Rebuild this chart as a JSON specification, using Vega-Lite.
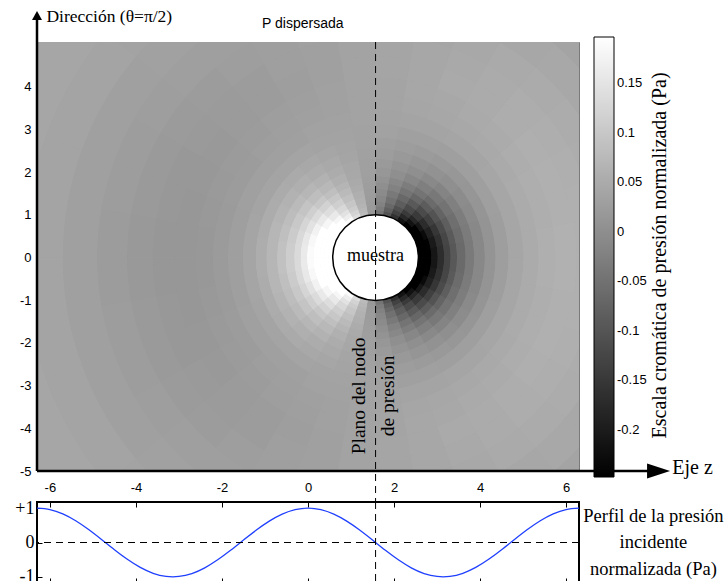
{
  "$schema": "https://vega.github.io/schema/vega-lite/v6.json",
  "background": "white",
  "padding": {"left": 13, "top": 7, "right": 0, "bottom": 0},
  "bounds": "flush",
  "spacing": 31,
  "config": {"view": {"stroke": null}, "font": "Liberation Sans", "axis": {"grid": false}},
  "datasets": {
    "sample": [{"z": 1.5708, "y": 0, "r": 1, "name": "muestra"}],
    "incident": [
      {"z":-6.3,"p":0.9999},{"z":-6.0,"p":0.9602},{"z":-5.7,"p":0.8347},{"z":-5.4,"p":0.6347},{"z":-5.1,"p":0.378},{"z":-4.8,"p":0.0875},{"z":-4.5,"p":-0.2108},{"z":-4.2,"p":-0.4903},{"z":-3.9,"p":-0.7259},{"z":-3.6,"p":-0.8968},{"z":-3.3,"p":-0.9875},{"z":-3.0,"p":-0.99},{"z":-2.7,"p":-0.9041},{"z":-2.4,"p":-0.7374},{"z":-2.1,"p":-0.5048},{"z":-1.8,"p":-0.2272},{"z":-1.5,"p":0.0707},{"z":-1.2,"p":0.3624},{"z":-0.9,"p":0.6216},{"z":-0.6,"p":0.8253},{"z":-0.3,"p":0.9553},{"z":0,"p":1},
      {"z":0.3,"p":0.9553},{"z":0.6,"p":0.8253},{"z":0.9,"p":0.6216},{"z":1.2,"p":0.3624},{"z":1.5,"p":0.0707},{"z":1.8,"p":-0.2272},{"z":2.1,"p":-0.5048},{"z":2.4,"p":-0.7374},{"z":2.7,"p":-0.9041},{"z":3.0,"p":-0.99},{"z":3.3,"p":-0.9875},{"z":3.6,"p":-0.8968},{"z":3.9,"p":-0.7259},{"z":4.2,"p":-0.4903},{"z":4.5,"p":-0.2108},{"z":4.8,"p":0.0875},{"z":5.1,"p":0.378},{"z":5.4,"p":0.6347},{"z":5.7,"p":0.8347},{"z":6.0,"p":0.9602},{"z":6.3,"p":0.9999}
    ],
    "field": [
      {"r0":1,"r1":1.1,"a0":0,"a1":10,"p":-0.364},{"r0":1,"r1":1.1,"a0":10,"a1":20,"p":-0.353},{"r0":1,"r1":1.1,"a0":20,"a1":30,"p":-0.332},{"r0":1,"r1":1.1,"a0":30,"a1":40,"p":-0.301},{"r0":1,"r1":1.1,"a0":40,"a1":50,"p":-0.262},{"r0":1,"r1":1.1,"a0":50,"a1":60,"p":-0.215},{"r0":1,"r1":1.1,"a0":60,"a1":70,"p":-0.162},{"r0":1,"r1":1.1,"a0":70,"a1":80,"p":-0.104},{"r0":1,"r1":1.1,"a0":80,"a1":90,"p":-0.044},{"r0":1,"r1":1.1,"a0":90,"a1":100,"p":0.018},{"r0":1,"r1":1.1,"a0":100,"a1":110,"p":0.078},{"r0":1,"r1":1.1,"a0":110,"a1":120,"p":0.136},{"r0":1,"r1":1.1,"a0":120,"a1":130,"p":0.189},{"r0":1,"r1":1.1,"a0":130,"a1":140,"p":0.236},{"r0":1,"r1":1.1,"a0":140,"a1":150,"p":0.275},{"r0":1,"r1":1.1,"a0":150,"a1":160,"p":0.306},{"r0":1,"r1":1.1,"a0":160,"a1":170,"p":0.327},{"r0":1,"r1":1.1,"a0":170,"a1":180,"p":0.338},
      {"r0":1,"r1":1.1,"a0":180,"a1":190,"p":0.338},{"r0":1,"r1":1.1,"a0":190,"a1":200,"p":0.327},{"r0":1,"r1":1.1,"a0":200,"a1":210,"p":0.306},{"r0":1,"r1":1.1,"a0":210,"a1":220,"p":0.275},{"r0":1,"r1":1.1,"a0":220,"a1":230,"p":0.236},{"r0":1,"r1":1.1,"a0":230,"a1":240,"p":0.189},{"r0":1,"r1":1.1,"a0":240,"a1":250,"p":0.136},{"r0":1,"r1":1.1,"a0":250,"a1":260,"p":0.078},{"r0":1,"r1":1.1,"a0":260,"a1":270,"p":0.018},{"r0":1,"r1":1.1,"a0":270,"a1":280,"p":-0.044},{"r0":1,"r1":1.1,"a0":280,"a1":290,"p":-0.104},{"r0":1,"r1":1.1,"a0":290,"a1":300,"p":-0.162},{"r0":1,"r1":1.1,"a0":300,"a1":310,"p":-0.215},{"r0":1,"r1":1.1,"a0":310,"a1":320,"p":-0.262},{"r0":1,"r1":1.1,"a0":320,"a1":330,"p":-0.301},{"r0":1,"r1":1.1,"a0":330,"a1":340,"p":-0.332},{"r0":1,"r1":1.1,"a0":340,"a1":350,"p":-0.353},{"r0":1,"r1":1.1,"a0":350,"a1":360,"p":-0.364},

      {"r0":1.1,"r1":1.2,"a0":0,"a1":10,"p":-0.304},{"r0":1.1,"r1":1.2,"a0":10,"a1":20,"p":-0.295},{"r0":1.1,"r1":1.2,"a0":20,"a1":30,"p":-0.277},{"r0":1.1,"r1":1.2,"a0":30,"a1":40,"p":-0.251},{"r0":1.1,"r1":1.2,"a0":40,"a1":50,"p":-0.217},{"r0":1.1,"r1":1.2,"a0":50,"a1":60,"p":-0.178},{"r0":1.1,"r1":1.2,"a0":60,"a1":70,"p":-0.132},{"r0":1.1,"r1":1.2,"a0":70,"a1":80,"p":-0.083},{"r0":1.1,"r1":1.2,"a0":80,"a1":90,"p":-0.032},{"r0":1.1,"r1":1.2,"a0":90,"a1":100,"p":0.02},{"r0":1.1,"r1":1.2,"a0":100,"a1":110,"p":0.072},{"r0":1.1,"r1":1.2,"a0":110,"a1":120,"p":0.121},{"r0":1.1,"r1":1.2,"a0":120,"a1":130,"p":0.166},{"r0":1.1,"r1":1.2,"a0":130,"a1":140,"p":0.206},{"r0":1.1,"r1":1.2,"a0":140,"a1":150,"p":0.239},{"r0":1.1,"r1":1.2,"a0":150,"a1":160,"p":0.266},{"r0":1.1,"r1":1.2,"a0":160,"a1":170,"p":0.283},{"r0":1.1,"r1":1.2,"a0":170,"a1":180,"p":0.292},
      {"r0":1.1,"r1":1.2,"a0":180,"a1":190,"p":0.292},{"r0":1.1,"r1":1.2,"a0":190,"a1":200,"p":0.283},{"r0":1.1,"r1":1.2,"a0":200,"a1":210,"p":0.266},{"r0":1.1,"r1":1.2,"a0":210,"a1":220,"p":0.239},{"r0":1.1,"r1":1.2,"a0":220,"a1":230,"p":0.206},{"r0":1.1,"r1":1.2,"a0":230,"a1":240,"p":0.166},{"r0":1.1,"r1":1.2,"a0":240,"a1":250,"p":0.121},{"r0":1.1,"r1":1.2,"a0":250,"a1":260,"p":0.072},{"r0":1.1,"r1":1.2,"a0":260,"a1":270,"p":0.02},{"r0":1.1,"r1":1.2,"a0":270,"a1":280,"p":-0.032},{"r0":1.1,"r1":1.2,"a0":280,"a1":290,"p":-0.083},{"r0":1.1,"r1":1.2,"a0":290,"a1":300,"p":-0.132},{"r0":1.1,"r1":1.2,"a0":300,"a1":310,"p":-0.178},{"r0":1.1,"r1":1.2,"a0":310,"a1":320,"p":-0.217},{"r0":1.1,"r1":1.2,"a0":320,"a1":330,"p":-0.251},{"r0":1.1,"r1":1.2,"a0":330,"a1":340,"p":-0.277},{"r0":1.1,"r1":1.2,"a0":340,"a1":350,"p":-0.295},{"r0":1.1,"r1":1.2,"a0":350,"a1":360,"p":-0.304},

      {"r0":1.2,"r1":1.3,"a0":0,"a1":10,"p":-0.254},{"r0":1.2,"r1":1.3,"a0":10,"a1":20,"p":-0.246},{"r0":1.2,"r1":1.3,"a0":20,"a1":30,"p":-0.231},{"r0":1.2,"r1":1.3,"a0":30,"a1":40,"p":-0.209},{"r0":1.2,"r1":1.3,"a0":40,"a1":50,"p":-0.18},{"r0":1.2,"r1":1.3,"a0":50,"a1":60,"p":-0.146},{"r0":1.2,"r1":1.3,"a0":60,"a1":70,"p":-0.108},{"r0":1.2,"r1":1.3,"a0":70,"a1":80,"p":-0.066},{"r0":1.2,"r1":1.3,"a0":80,"a1":90,"p":-0.022},{"r0":1.2,"r1":1.3,"a0":90,"a1":100,"p":0.023},{"r0":1.2,"r1":1.3,"a0":100,"a1":110,"p":0.066},{"r0":1.2,"r1":1.3,"a0":110,"a1":120,"p":0.108},{"r0":1.2,"r1":1.3,"a0":120,"a1":130,"p":0.147},{"r0":1.2,"r1":1.3,"a0":130,"a1":140,"p":0.181},{"r0":1.2,"r1":1.3,"a0":140,"a1":150,"p":0.209},{"r0":1.2,"r1":1.3,"a0":150,"a1":160,"p":0.232},{"r0":1.2,"r1":1.3,"a0":160,"a1":170,"p":0.247},{"r0":1.2,"r1":1.3,"a0":170,"a1":180,"p":0.255},
      {"r0":1.2,"r1":1.3,"a0":180,"a1":190,"p":0.255},{"r0":1.2,"r1":1.3,"a0":190,"a1":200,"p":0.247},{"r0":1.2,"r1":1.3,"a0":200,"a1":210,"p":0.232},{"r0":1.2,"r1":1.3,"a0":210,"a1":220,"p":0.209},{"r0":1.2,"r1":1.3,"a0":220,"a1":230,"p":0.181},{"r0":1.2,"r1":1.3,"a0":230,"a1":240,"p":0.147},{"r0":1.2,"r1":1.3,"a0":240,"a1":250,"p":0.108},{"r0":1.2,"r1":1.3,"a0":250,"a1":260,"p":0.066},{"r0":1.2,"r1":1.3,"a0":260,"a1":270,"p":0.023},{"r0":1.2,"r1":1.3,"a0":270,"a1":280,"p":-0.022},{"r0":1.2,"r1":1.3,"a0":280,"a1":290,"p":-0.066},{"r0":1.2,"r1":1.3,"a0":290,"a1":300,"p":-0.108},{"r0":1.2,"r1":1.3,"a0":300,"a1":310,"p":-0.146},{"r0":1.2,"r1":1.3,"a0":310,"a1":320,"p":-0.18},{"r0":1.2,"r1":1.3,"a0":320,"a1":330,"p":-0.209},{"r0":1.2,"r1":1.3,"a0":330,"a1":340,"p":-0.231},{"r0":1.2,"r1":1.3,"a0":340,"a1":350,"p":-0.246},{"r0":1.2,"r1":1.3,"a0":350,"a1":360,"p":-0.254},

      {"r0":1.3,"r1":1.45,"a0":0,"a1":10,"p":-0.209},{"r0":1.3,"r1":1.45,"a0":10,"a1":20,"p":-0.203},{"r0":1.3,"r1":1.45,"a0":20,"a1":30,"p":-0.19},{"r0":1.3,"r1":1.45,"a0":30,"a1":40,"p":-0.171},{"r0":1.3,"r1":1.45,"a0":40,"a1":50,"p":-0.147},{"r0":1.3,"r1":1.45,"a0":50,"a1":60,"p":-0.118},{"r0":1.3,"r1":1.45,"a0":60,"a1":70,"p":-0.086},{"r0":1.3,"r1":1.45,"a0":70,"a1":80,"p":-0.05},{"r0":1.3,"r1":1.45,"a0":80,"a1":90,"p":-0.013},{"r0":1.3,"r1":1.45,"a0":90,"a1":100,"p":0.024},{"r0":1.3,"r1":1.45,"a0":100,"a1":110,"p":0.061},{"r0":1.3,"r1":1.45,"a0":110,"a1":120,"p":0.097},{"r0":1.3,"r1":1.45,"a0":120,"a1":130,"p":0.129},{"r0":1.3,"r1":1.45,"a0":130,"a1":140,"p":0.158},{"r0":1.3,"r1":1.45,"a0":140,"a1":150,"p":0.182},{"r0":1.3,"r1":1.45,"a0":150,"a1":160,"p":0.201},{"r0":1.3,"r1":1.45,"a0":160,"a1":170,"p":0.214},{"r0":1.3,"r1":1.45,"a0":170,"a1":180,"p":0.22},
      {"r0":1.3,"r1":1.45,"a0":180,"a1":190,"p":0.22},{"r0":1.3,"r1":1.45,"a0":190,"a1":200,"p":0.214},{"r0":1.3,"r1":1.45,"a0":200,"a1":210,"p":0.201},{"r0":1.3,"r1":1.45,"a0":210,"a1":220,"p":0.182},{"r0":1.3,"r1":1.45,"a0":220,"a1":230,"p":0.158},{"r0":1.3,"r1":1.45,"a0":230,"a1":240,"p":0.129},{"r0":1.3,"r1":1.45,"a0":240,"a1":250,"p":0.097},{"r0":1.3,"r1":1.45,"a0":250,"a1":260,"p":0.061},{"r0":1.3,"r1":1.45,"a0":260,"a1":270,"p":0.024},{"r0":1.3,"r1":1.45,"a0":270,"a1":280,"p":-0.013},{"r0":1.3,"r1":1.45,"a0":280,"a1":290,"p":-0.05},{"r0":1.3,"r1":1.45,"a0":290,"a1":300,"p":-0.086},{"r0":1.3,"r1":1.45,"a0":300,"a1":310,"p":-0.118},{"r0":1.3,"r1":1.45,"a0":310,"a1":320,"p":-0.147},{"r0":1.3,"r1":1.45,"a0":320,"a1":330,"p":-0.171},{"r0":1.3,"r1":1.45,"a0":330,"a1":340,"p":-0.19},{"r0":1.3,"r1":1.45,"a0":340,"a1":350,"p":-0.203},{"r0":1.3,"r1":1.45,"a0":350,"a1":360,"p":-0.209},

      {"r0":1.45,"r1":1.6,"a0":0,"a1":10,"p":-0.169},{"r0":1.45,"r1":1.6,"a0":10,"a1":20,"p":-0.164},{"r0":1.45,"r1":1.6,"a0":20,"a1":30,"p":-0.153},{"r0":1.45,"r1":1.6,"a0":30,"a1":40,"p":-0.137},{"r0":1.45,"r1":1.6,"a0":40,"a1":50,"p":-0.117},{"r0":1.45,"r1":1.6,"a0":50,"a1":60,"p":-0.093},{"r0":1.45,"r1":1.6,"a0":60,"a1":70,"p":-0.066},{"r0":1.45,"r1":1.6,"a0":70,"a1":80,"p":-0.036},{"r0":1.45,"r1":1.6,"a0":80,"a1":90,"p":-0.005},{"r0":1.45,"r1":1.6,"a0":90,"a1":100,"p":0.026},{"r0":1.45,"r1":1.6,"a0":100,"a1":110,"p":0.057},{"r0":1.45,"r1":1.6,"a0":110,"a1":120,"p":0.087},{"r0":1.45,"r1":1.6,"a0":120,"a1":130,"p":0.114},{"r0":1.45,"r1":1.6,"a0":130,"a1":140,"p":0.138},{"r0":1.45,"r1":1.6,"a0":140,"a1":150,"p":0.158},{"r0":1.45,"r1":1.6,"a0":150,"a1":160,"p":0.174},{"r0":1.45,"r1":1.6,"a0":160,"a1":170,"p":0.185},{"r0":1.45,"r1":1.6,"a0":170,"a1":180,"p":0.19},
      {"r0":1.45,"r1":1.6,"a0":180,"a1":190,"p":0.19},{"r0":1.45,"r1":1.6,"a0":190,"a1":200,"p":0.185},{"r0":1.45,"r1":1.6,"a0":200,"a1":210,"p":0.174},{"r0":1.45,"r1":1.6,"a0":210,"a1":220,"p":0.158},{"r0":1.45,"r1":1.6,"a0":220,"a1":230,"p":0.138},{"r0":1.45,"r1":1.6,"a0":230,"a1":240,"p":0.114},{"r0":1.45,"r1":1.6,"a0":240,"a1":250,"p":0.087},{"r0":1.45,"r1":1.6,"a0":250,"a1":260,"p":0.057},{"r0":1.45,"r1":1.6,"a0":260,"a1":270,"p":0.026},{"r0":1.45,"r1":1.6,"a0":270,"a1":280,"p":-0.005},{"r0":1.45,"r1":1.6,"a0":280,"a1":290,"p":-0.036},{"r0":1.45,"r1":1.6,"a0":290,"a1":300,"p":-0.066},{"r0":1.45,"r1":1.6,"a0":300,"a1":310,"p":-0.093},{"r0":1.45,"r1":1.6,"a0":310,"a1":320,"p":-0.117},{"r0":1.45,"r1":1.6,"a0":320,"a1":330,"p":-0.137},{"r0":1.45,"r1":1.6,"a0":330,"a1":340,"p":-0.153},{"r0":1.45,"r1":1.6,"a0":340,"a1":350,"p":-0.164},{"r0":1.45,"r1":1.6,"a0":350,"a1":360,"p":-0.169},

      {"r0":1.6,"r1":1.75,"a0":0,"a1":10,"p":-0.13},{"r0":1.6,"r1":1.75,"a0":10,"a1":20,"p":-0.125},{"r0":1.6,"r1":1.75,"a0":20,"a1":30,"p":-0.117},{"r0":1.6,"r1":1.75,"a0":30,"a1":40,"p":-0.104},{"r0":1.6,"r1":1.75,"a0":40,"a1":50,"p":-0.087},{"r0":1.6,"r1":1.75,"a0":50,"a1":60,"p":-0.068},{"r0":1.6,"r1":1.75,"a0":60,"a1":70,"p":-0.046},{"r0":1.6,"r1":1.75,"a0":70,"a1":80,"p":-0.022},{"r0":1.6,"r1":1.75,"a0":80,"a1":90,"p":0.002},{"r0":1.6,"r1":1.75,"a0":90,"a1":100,"p":0.028},{"r0":1.6,"r1":1.75,"a0":100,"a1":110,"p":0.053},{"r0":1.6,"r1":1.75,"a0":110,"a1":120,"p":0.077},{"r0":1.6,"r1":1.75,"a0":120,"a1":130,"p":0.099},{"r0":1.6,"r1":1.75,"a0":130,"a1":140,"p":0.118},{"r0":1.6,"r1":1.75,"a0":140,"a1":150,"p":0.134},{"r0":1.6,"r1":1.75,"a0":150,"a1":160,"p":0.147},{"r0":1.6,"r1":1.75,"a0":160,"a1":170,"p":0.156},{"r0":1.6,"r1":1.75,"a0":170,"a1":180,"p":0.16},
      {"r0":1.6,"r1":1.75,"a0":180,"a1":190,"p":0.16},{"r0":1.6,"r1":1.75,"a0":190,"a1":200,"p":0.156},{"r0":1.6,"r1":1.75,"a0":200,"a1":210,"p":0.147},{"r0":1.6,"r1":1.75,"a0":210,"a1":220,"p":0.134},{"r0":1.6,"r1":1.75,"a0":220,"a1":230,"p":0.118},{"r0":1.6,"r1":1.75,"a0":230,"a1":240,"p":0.099},{"r0":1.6,"r1":1.75,"a0":240,"a1":250,"p":0.077},{"r0":1.6,"r1":1.75,"a0":250,"a1":260,"p":0.053},{"r0":1.6,"r1":1.75,"a0":260,"a1":270,"p":0.028},{"r0":1.6,"r1":1.75,"a0":270,"a1":280,"p":0.002},{"r0":1.6,"r1":1.75,"a0":280,"a1":290,"p":-0.022},{"r0":1.6,"r1":1.75,"a0":290,"a1":300,"p":-0.046},{"r0":1.6,"r1":1.75,"a0":300,"a1":310,"p":-0.068},{"r0":1.6,"r1":1.75,"a0":310,"a1":320,"p":-0.087},{"r0":1.6,"r1":1.75,"a0":320,"a1":330,"p":-0.104},{"r0":1.6,"r1":1.75,"a0":330,"a1":340,"p":-0.117},{"r0":1.6,"r1":1.75,"a0":340,"a1":350,"p":-0.125},{"r0":1.6,"r1":1.75,"a0":350,"a1":360,"p":-0.13},

      {"r0":1.75,"r1":1.9,"a0":0,"a1":10,"p":-0.095},{"r0":1.75,"r1":1.9,"a0":10,"a1":20,"p":-0.091},{"r0":1.75,"r1":1.9,"a0":20,"a1":30,"p":-0.084},{"r0":1.75,"r1":1.9,"a0":30,"a1":40,"p":-0.074},{"r0":1.75,"r1":1.9,"a0":40,"a1":50,"p":-0.062},{"r0":1.75,"r1":1.9,"a0":50,"a1":60,"p":-0.046},{"r0":1.75,"r1":1.9,"a0":60,"a1":70,"p":-0.029},{"r0":1.75,"r1":1.9,"a0":70,"a1":80,"p":-0.01},{"r0":1.75,"r1":1.9,"a0":80,"a1":90,"p":0.009},{"r0":1.75,"r1":1.9,"a0":90,"a1":100,"p":0.029},{"r0":1.75,"r1":1.9,"a0":100,"a1":110,"p":0.049},{"r0":1.75,"r1":1.9,"a0":110,"a1":120,"p":0.068},{"r0":1.75,"r1":1.9,"a0":120,"a1":130,"p":0.085},{"r0":1.75,"r1":1.9,"a0":130,"a1":140,"p":0.1},{"r0":1.75,"r1":1.9,"a0":140,"a1":150,"p":0.113},{"r0":1.75,"r1":1.9,"a0":150,"a1":160,"p":0.123},{"r0":1.75,"r1":1.9,"a0":160,"a1":170,"p":0.13},{"r0":1.75,"r1":1.9,"a0":170,"a1":180,"p":0.133},
      {"r0":1.75,"r1":1.9,"a0":180,"a1":190,"p":0.133},{"r0":1.75,"r1":1.9,"a0":190,"a1":200,"p":0.13},{"r0":1.75,"r1":1.9,"a0":200,"a1":210,"p":0.123},{"r0":1.75,"r1":1.9,"a0":210,"a1":220,"p":0.113},{"r0":1.75,"r1":1.9,"a0":220,"a1":230,"p":0.1},{"r0":1.75,"r1":1.9,"a0":230,"a1":240,"p":0.085},{"r0":1.75,"r1":1.9,"a0":240,"a1":250,"p":0.068},{"r0":1.75,"r1":1.9,"a0":250,"a1":260,"p":0.049},{"r0":1.75,"r1":1.9,"a0":260,"a1":270,"p":0.029},{"r0":1.75,"r1":1.9,"a0":270,"a1":280,"p":0.009},{"r0":1.75,"r1":1.9,"a0":280,"a1":290,"p":-0.01},{"r0":1.75,"r1":1.9,"a0":290,"a1":300,"p":-0.029},{"r0":1.75,"r1":1.9,"a0":300,"a1":310,"p":-0.046},{"r0":1.75,"r1":1.9,"a0":310,"a1":320,"p":-0.062},{"r0":1.75,"r1":1.9,"a0":320,"a1":330,"p":-0.074},{"r0":1.75,"r1":1.9,"a0":330,"a1":340,"p":-0.084},{"r0":1.75,"r1":1.9,"a0":340,"a1":350,"p":-0.091},{"r0":1.75,"r1":1.9,"a0":350,"a1":360,"p":-0.095},

      {"r0":1.9,"r1":2.1,"a0":0,"a1":10,"p":-0.063},{"r0":1.9,"r1":2.1,"a0":10,"a1":20,"p":-0.06},{"r0":1.9,"r1":2.1,"a0":20,"a1":30,"p":-0.055},{"r0":1.9,"r1":2.1,"a0":30,"a1":40,"p":-0.047},{"r0":1.9,"r1":2.1,"a0":40,"a1":50,"p":-0.038},{"r0":1.9,"r1":2.1,"a0":50,"a1":60,"p":-0.026},{"r0":1.9,"r1":2.1,"a0":60,"a1":70,"p":-0.013},{"r0":1.9,"r1":2.1,"a0":70,"a1":80,"p":0.001},{"r0":1.9,"r1":2.1,"a0":80,"a1":90,"p":0.016},{"r0":1.9,"r1":2.1,"a0":90,"a1":100,"p":0.031},{"r0":1.9,"r1":2.1,"a0":100,"a1":110,"p":0.046},{"r0":1.9,"r1":2.1,"a0":110,"a1":120,"p":0.06},{"r0":1.9,"r1":2.1,"a0":120,"a1":130,"p":0.073},{"r0":1.9,"r1":2.1,"a0":130,"a1":140,"p":0.084},{"r0":1.9,"r1":2.1,"a0":140,"a1":150,"p":0.094},{"r0":1.9,"r1":2.1,"a0":150,"a1":160,"p":0.101},{"r0":1.9,"r1":2.1,"a0":160,"a1":170,"p":0.107},{"r0":1.9,"r1":2.1,"a0":170,"a1":180,"p":0.109},
      {"r0":1.9,"r1":2.1,"a0":180,"a1":190,"p":0.109},{"r0":1.9,"r1":2.1,"a0":190,"a1":200,"p":0.107},{"r0":1.9,"r1":2.1,"a0":200,"a1":210,"p":0.101},{"r0":1.9,"r1":2.1,"a0":210,"a1":220,"p":0.094},{"r0":1.9,"r1":2.1,"a0":220,"a1":230,"p":0.084},{"r0":1.9,"r1":2.1,"a0":230,"a1":240,"p":0.073},{"r0":1.9,"r1":2.1,"a0":240,"a1":250,"p":0.06},{"r0":1.9,"r1":2.1,"a0":250,"a1":260,"p":0.046},{"r0":1.9,"r1":2.1,"a0":260,"a1":270,"p":0.031},{"r0":1.9,"r1":2.1,"a0":270,"a1":280,"p":0.016},{"r0":1.9,"r1":2.1,"a0":280,"a1":290,"p":0.001},{"r0":1.9,"r1":2.1,"a0":290,"a1":300,"p":-0.013},{"r0":1.9,"r1":2.1,"a0":300,"a1":310,"p":-0.026},{"r0":1.9,"r1":2.1,"a0":310,"a1":320,"p":-0.038},{"r0":1.9,"r1":2.1,"a0":320,"a1":330,"p":-0.047},{"r0":1.9,"r1":2.1,"a0":330,"a1":340,"p":-0.055},{"r0":1.9,"r1":2.1,"a0":340,"a1":350,"p":-0.06},{"r0":1.9,"r1":2.1,"a0":350,"a1":360,"p":-0.063},

      {"r0":2.1,"r1":2.3,"a0":0,"a1":10,"p":-0.035},{"r0":2.1,"r1":2.3,"a0":10,"a1":20,"p":-0.033},{"r0":2.1,"r1":2.3,"a0":20,"a1":30,"p":-0.029},{"r0":2.1,"r1":2.3,"a0":30,"a1":40,"p":-0.024},{"r0":2.1,"r1":2.3,"a0":40,"a1":50,"p":-0.017},{"r0":2.1,"r1":2.3,"a0":50,"a1":60,"p":-0.009},{"r0":2.1,"r1":2.3,"a0":60,"a1":70,"p":0.001},{"r0":2.1,"r1":2.3,"a0":70,"a1":80,"p":0.011},{"r0":2.1,"r1":2.3,"a0":80,"a1":90,"p":0.021},{"r0":2.1,"r1":2.3,"a0":90,"a1":100,"p":0.032},{"r0":2.1,"r1":2.3,"a0":100,"a1":110,"p":0.043},{"r0":2.1,"r1":2.3,"a0":110,"a1":120,"p":0.053},{"r0":2.1,"r1":2.3,"a0":120,"a1":130,"p":0.062},{"r0":2.1,"r1":2.3,"a0":130,"a1":140,"p":0.07},{"r0":2.1,"r1":2.3,"a0":140,"a1":150,"p":0.077},{"r0":2.1,"r1":2.3,"a0":150,"a1":160,"p":0.082},{"r0":2.1,"r1":2.3,"a0":160,"a1":170,"p":0.086},{"r0":2.1,"r1":2.3,"a0":170,"a1":180,"p":0.088},
      {"r0":2.1,"r1":2.3,"a0":180,"a1":190,"p":0.088},{"r0":2.1,"r1":2.3,"a0":190,"a1":200,"p":0.086},{"r0":2.1,"r1":2.3,"a0":200,"a1":210,"p":0.082},{"r0":2.1,"r1":2.3,"a0":210,"a1":220,"p":0.077},{"r0":2.1,"r1":2.3,"a0":220,"a1":230,"p":0.07},{"r0":2.1,"r1":2.3,"a0":230,"a1":240,"p":0.062},{"r0":2.1,"r1":2.3,"a0":240,"a1":250,"p":0.053},{"r0":2.1,"r1":2.3,"a0":250,"a1":260,"p":0.043},{"r0":2.1,"r1":2.3,"a0":260,"a1":270,"p":0.032},{"r0":2.1,"r1":2.3,"a0":270,"a1":280,"p":0.021},{"r0":2.1,"r1":2.3,"a0":280,"a1":290,"p":0.011},{"r0":2.1,"r1":2.3,"a0":290,"a1":300,"p":0.001},{"r0":2.1,"r1":2.3,"a0":300,"a1":310,"p":-0.009},{"r0":2.1,"r1":2.3,"a0":310,"a1":320,"p":-0.017},{"r0":2.1,"r1":2.3,"a0":320,"a1":330,"p":-0.024},{"r0":2.1,"r1":2.3,"a0":330,"a1":340,"p":-0.029},{"r0":2.1,"r1":2.3,"a0":340,"a1":350,"p":-0.033},{"r0":2.1,"r1":2.3,"a0":350,"a1":360,"p":-0.035},

      {"r0":2.3,"r1":2.55,"a0":0,"a1":10,"p":-0.011},{"r0":2.3,"r1":2.55,"a0":10,"a1":20,"p":-0.01},{"r0":2.3,"r1":2.55,"a0":20,"a1":30,"p":-0.007},{"r0":2.3,"r1":2.55,"a0":30,"a1":40,"p":-0.004},{"r0":2.3,"r1":2.55,"a0":40,"a1":50,"p":0.001},{"r0":2.3,"r1":2.55,"a0":50,"a1":60,"p":0.006},{"r0":2.3,"r1":2.55,"a0":60,"a1":70,"p":0.012},{"r0":2.3,"r1":2.55,"a0":70,"a1":80,"p":0.019},{"r0":2.3,"r1":2.55,"a0":80,"a1":90,"p":0.026},{"r0":2.3,"r1":2.55,"a0":90,"a1":100,"p":0.033},{"r0":2.3,"r1":2.55,"a0":100,"a1":110,"p":0.04},{"r0":2.3,"r1":2.55,"a0":110,"a1":120,"p":0.047},{"r0":2.3,"r1":2.55,"a0":120,"a1":130,"p":0.053},{"r0":2.3,"r1":2.55,"a0":130,"a1":140,"p":0.058},{"r0":2.3,"r1":2.55,"a0":140,"a1":150,"p":0.063},{"r0":2.3,"r1":2.55,"a0":150,"a1":160,"p":0.066},{"r0":2.3,"r1":2.55,"a0":160,"a1":170,"p":0.069},{"r0":2.3,"r1":2.55,"a0":170,"a1":180,"p":0.07},
      {"r0":2.3,"r1":2.55,"a0":180,"a1":190,"p":0.07},{"r0":2.3,"r1":2.55,"a0":190,"a1":200,"p":0.069},{"r0":2.3,"r1":2.55,"a0":200,"a1":210,"p":0.066},{"r0":2.3,"r1":2.55,"a0":210,"a1":220,"p":0.063},{"r0":2.3,"r1":2.55,"a0":220,"a1":230,"p":0.058},{"r0":2.3,"r1":2.55,"a0":230,"a1":240,"p":0.053},{"r0":2.3,"r1":2.55,"a0":240,"a1":250,"p":0.047},{"r0":2.3,"r1":2.55,"a0":250,"a1":260,"p":0.04},{"r0":2.3,"r1":2.55,"a0":260,"a1":270,"p":0.033},{"r0":2.3,"r1":2.55,"a0":270,"a1":280,"p":0.026},{"r0":2.3,"r1":2.55,"a0":280,"a1":290,"p":0.019},{"r0":2.3,"r1":2.55,"a0":290,"a1":300,"p":0.012},{"r0":2.3,"r1":2.55,"a0":300,"a1":310,"p":0.006},{"r0":2.3,"r1":2.55,"a0":310,"a1":320,"p":0.001},{"r0":2.3,"r1":2.55,"a0":320,"a1":330,"p":-0.004},{"r0":2.3,"r1":2.55,"a0":330,"a1":340,"p":-0.007},{"r0":2.3,"r1":2.55,"a0":340,"a1":350,"p":-0.01},{"r0":2.3,"r1":2.55,"a0":350,"a1":360,"p":-0.011},

      {"r0":2.55,"r1":2.8,"a0":0,"a1":10,"p":0.01},{"r0":2.55,"r1":2.8,"a0":10,"a1":20,"p":0.011},{"r0":2.55,"r1":2.8,"a0":20,"a1":30,"p":0.012},{"r0":2.55,"r1":2.8,"a0":30,"a1":40,"p":0.014},{"r0":2.55,"r1":2.8,"a0":40,"a1":50,"p":0.016},{"r0":2.55,"r1":2.8,"a0":50,"a1":60,"p":0.019},{"r0":2.55,"r1":2.8,"a0":60,"a1":70,"p":0.023},{"r0":2.55,"r1":2.8,"a0":70,"a1":80,"p":0.026},{"r0":2.55,"r1":2.8,"a0":80,"a1":90,"p":0.03},{"r0":2.55,"r1":2.8,"a0":90,"a1":100,"p":0.034},{"r0":2.55,"r1":2.8,"a0":100,"a1":110,"p":0.038},{"r0":2.55,"r1":2.8,"a0":110,"a1":120,"p":0.041},{"r0":2.55,"r1":2.8,"a0":120,"a1":130,"p":0.045},{"r0":2.55,"r1":2.8,"a0":130,"a1":140,"p":0.048},{"r0":2.55,"r1":2.8,"a0":140,"a1":150,"p":0.05},{"r0":2.55,"r1":2.8,"a0":150,"a1":160,"p":0.052},{"r0":2.55,"r1":2.8,"a0":160,"a1":170,"p":0.053},{"r0":2.55,"r1":2.8,"a0":170,"a1":180,"p":0.054},
      {"r0":2.55,"r1":2.8,"a0":180,"a1":190,"p":0.054},{"r0":2.55,"r1":2.8,"a0":190,"a1":200,"p":0.053},{"r0":2.55,"r1":2.8,"a0":200,"a1":210,"p":0.052},{"r0":2.55,"r1":2.8,"a0":210,"a1":220,"p":0.05},{"r0":2.55,"r1":2.8,"a0":220,"a1":230,"p":0.048},{"r0":2.55,"r1":2.8,"a0":230,"a1":240,"p":0.045},{"r0":2.55,"r1":2.8,"a0":240,"a1":250,"p":0.041},{"r0":2.55,"r1":2.8,"a0":250,"a1":260,"p":0.038},{"r0":2.55,"r1":2.8,"a0":260,"a1":270,"p":0.034},{"r0":2.55,"r1":2.8,"a0":270,"a1":280,"p":0.03},{"r0":2.55,"r1":2.8,"a0":280,"a1":290,"p":0.026},{"r0":2.55,"r1":2.8,"a0":290,"a1":300,"p":0.023},{"r0":2.55,"r1":2.8,"a0":300,"a1":310,"p":0.019},{"r0":2.55,"r1":2.8,"a0":310,"a1":320,"p":0.016},{"r0":2.55,"r1":2.8,"a0":320,"a1":330,"p":0.014},{"r0":2.55,"r1":2.8,"a0":330,"a1":340,"p":0.012},{"r0":2.55,"r1":2.8,"a0":340,"a1":350,"p":0.011},{"r0":2.55,"r1":2.8,"a0":350,"a1":360,"p":0.01},

      {"r0":2.8,"r1":3.1,"a0":0,"a1":20,"p":0.028},{"r0":2.8,"r1":3.1,"a0":20,"a1":40,"p":0.029},{"r0":2.8,"r1":3.1,"a0":40,"a1":60,"p":0.03},{"r0":2.8,"r1":3.1,"a0":60,"a1":80,"p":0.032},{"r0":2.8,"r1":3.1,"a0":80,"a1":100,"p":0.034},{"r0":2.8,"r1":3.1,"a0":100,"a1":120,"p":0.036},{"r0":2.8,"r1":3.1,"a0":120,"a1":140,"p":0.038},{"r0":2.8,"r1":3.1,"a0":140,"a1":160,"p":0.039},{"r0":2.8,"r1":3.1,"a0":160,"a1":180,"p":0.04},
      {"r0":2.8,"r1":3.1,"a0":180,"a1":200,"p":0.04},{"r0":2.8,"r1":3.1,"a0":200,"a1":220,"p":0.039},{"r0":2.8,"r1":3.1,"a0":220,"a1":240,"p":0.038},{"r0":2.8,"r1":3.1,"a0":240,"a1":260,"p":0.036},{"r0":2.8,"r1":3.1,"a0":260,"a1":280,"p":0.034},{"r0":2.8,"r1":3.1,"a0":280,"a1":300,"p":0.032},{"r0":2.8,"r1":3.1,"a0":300,"a1":320,"p":0.03},{"r0":2.8,"r1":3.1,"a0":320,"a1":340,"p":0.029},{"r0":2.8,"r1":3.1,"a0":340,"a1":360,"p":0.028},

      {"r0":3.1,"r1":3.45,"a0":0,"a1":20,"p":0.042},{"r0":3.1,"r1":3.45,"a0":20,"a1":40,"p":0.041},{"r0":3.1,"r1":3.45,"a0":40,"a1":60,"p":0.04},{"r0":3.1,"r1":3.45,"a0":60,"a1":80,"p":0.038},{"r0":3.1,"r1":3.45,"a0":80,"a1":100,"p":0.036},{"r0":3.1,"r1":3.45,"a0":100,"a1":120,"p":0.034},{"r0":3.1,"r1":3.45,"a0":120,"a1":140,"p":0.032},{"r0":3.1,"r1":3.45,"a0":140,"a1":160,"p":0.031},{"r0":3.1,"r1":3.45,"a0":160,"a1":180,"p":0.03},
      {"r0":3.1,"r1":3.45,"a0":180,"a1":200,"p":0.03},{"r0":3.1,"r1":3.45,"a0":200,"a1":220,"p":0.031},{"r0":3.1,"r1":3.45,"a0":220,"a1":240,"p":0.032},{"r0":3.1,"r1":3.45,"a0":240,"a1":260,"p":0.034},{"r0":3.1,"r1":3.45,"a0":260,"a1":280,"p":0.036},{"r0":3.1,"r1":3.45,"a0":280,"a1":300,"p":0.038},{"r0":3.1,"r1":3.45,"a0":300,"a1":320,"p":0.04},{"r0":3.1,"r1":3.45,"a0":320,"a1":340,"p":0.041},{"r0":3.1,"r1":3.45,"a0":340,"a1":360,"p":0.042},

      {"r0":3.45,"r1":3.8,"a0":0,"a1":10,"p":0.051},{"r0":3.45,"r1":3.8,"a0":10,"a1":20,"p":0.05},{"r0":3.45,"r1":3.8,"a0":20,"a1":30,"p":0.05},{"r0":3.45,"r1":3.8,"a0":30,"a1":40,"p":0.048},{"r0":3.45,"r1":3.8,"a0":40,"a1":50,"p":0.047},{"r0":3.45,"r1":3.8,"a0":50,"a1":60,"p":0.045},{"r0":3.45,"r1":3.8,"a0":60,"a1":70,"p":0.043},{"r0":3.45,"r1":3.8,"a0":70,"a1":80,"p":0.041},{"r0":3.45,"r1":3.8,"a0":80,"a1":90,"p":0.038},{"r0":3.45,"r1":3.8,"a0":90,"a1":100,"p":0.036},{"r0":3.45,"r1":3.8,"a0":100,"a1":110,"p":0.033},{"r0":3.45,"r1":3.8,"a0":110,"a1":120,"p":0.031},{"r0":3.45,"r1":3.8,"a0":120,"a1":130,"p":0.029},{"r0":3.45,"r1":3.8,"a0":130,"a1":140,"p":0.027},{"r0":3.45,"r1":3.8,"a0":140,"a1":150,"p":0.025},{"r0":3.45,"r1":3.8,"a0":150,"a1":160,"p":0.024},{"r0":3.45,"r1":3.8,"a0":160,"a1":170,"p":0.023},{"r0":3.45,"r1":3.8,"a0":170,"a1":180,"p":0.023},
      {"r0":3.45,"r1":3.8,"a0":180,"a1":190,"p":0.023},{"r0":3.45,"r1":3.8,"a0":190,"a1":200,"p":0.023},{"r0":3.45,"r1":3.8,"a0":200,"a1":210,"p":0.024},{"r0":3.45,"r1":3.8,"a0":210,"a1":220,"p":0.025},{"r0":3.45,"r1":3.8,"a0":220,"a1":230,"p":0.027},{"r0":3.45,"r1":3.8,"a0":230,"a1":240,"p":0.029},{"r0":3.45,"r1":3.8,"a0":240,"a1":250,"p":0.031},{"r0":3.45,"r1":3.8,"a0":250,"a1":260,"p":0.033},{"r0":3.45,"r1":3.8,"a0":260,"a1":270,"p":0.036},{"r0":3.45,"r1":3.8,"a0":270,"a1":280,"p":0.038},{"r0":3.45,"r1":3.8,"a0":280,"a1":290,"p":0.041},{"r0":3.45,"r1":3.8,"a0":290,"a1":300,"p":0.043},{"r0":3.45,"r1":3.8,"a0":300,"a1":310,"p":0.045},{"r0":3.45,"r1":3.8,"a0":310,"a1":320,"p":0.047},{"r0":3.45,"r1":3.8,"a0":320,"a1":330,"p":0.048},{"r0":3.45,"r1":3.8,"a0":330,"a1":340,"p":0.05},{"r0":3.45,"r1":3.8,"a0":340,"a1":350,"p":0.05},{"r0":3.45,"r1":3.8,"a0":350,"a1":360,"p":0.051},

      {"r0":3.8,"r1":4.2,"a0":0,"a1":10,"p":0.057},{"r0":3.8,"r1":4.2,"a0":10,"a1":20,"p":0.056},{"r0":3.8,"r1":4.2,"a0":20,"a1":30,"p":0.055},{"r0":3.8,"r1":4.2,"a0":30,"a1":40,"p":0.054},{"r0":3.8,"r1":4.2,"a0":40,"a1":50,"p":0.051},{"r0":3.8,"r1":4.2,"a0":50,"a1":60,"p":0.049},{"r0":3.8,"r1":4.2,"a0":60,"a1":70,"p":0.046},{"r0":3.8,"r1":4.2,"a0":70,"a1":80,"p":0.043},{"r0":3.8,"r1":4.2,"a0":80,"a1":90,"p":0.039},{"r0":3.8,"r1":4.2,"a0":90,"a1":100,"p":0.036},{"r0":3.8,"r1":4.2,"a0":100,"a1":110,"p":0.033},{"r0":3.8,"r1":4.2,"a0":110,"a1":120,"p":0.029},{"r0":3.8,"r1":4.2,"a0":120,"a1":130,"p":0.027},{"r0":3.8,"r1":4.2,"a0":130,"a1":140,"p":0.024},{"r0":3.8,"r1":4.2,"a0":140,"a1":150,"p":0.022},{"r0":3.8,"r1":4.2,"a0":150,"a1":160,"p":0.02},{"r0":3.8,"r1":4.2,"a0":160,"a1":170,"p":0.019},{"r0":3.8,"r1":4.2,"a0":170,"a1":180,"p":0.018},
      {"r0":3.8,"r1":4.2,"a0":180,"a1":190,"p":0.018},{"r0":3.8,"r1":4.2,"a0":190,"a1":200,"p":0.019},{"r0":3.8,"r1":4.2,"a0":200,"a1":210,"p":0.02},{"r0":3.8,"r1":4.2,"a0":210,"a1":220,"p":0.022},{"r0":3.8,"r1":4.2,"a0":220,"a1":230,"p":0.024},{"r0":3.8,"r1":4.2,"a0":230,"a1":240,"p":0.027},{"r0":3.8,"r1":4.2,"a0":240,"a1":250,"p":0.029},{"r0":3.8,"r1":4.2,"a0":250,"a1":260,"p":0.033},{"r0":3.8,"r1":4.2,"a0":260,"a1":270,"p":0.036},{"r0":3.8,"r1":4.2,"a0":270,"a1":280,"p":0.039},{"r0":3.8,"r1":4.2,"a0":280,"a1":290,"p":0.043},{"r0":3.8,"r1":4.2,"a0":290,"a1":300,"p":0.046},{"r0":3.8,"r1":4.2,"a0":300,"a1":310,"p":0.049},{"r0":3.8,"r1":4.2,"a0":310,"a1":320,"p":0.051},{"r0":3.8,"r1":4.2,"a0":320,"a1":330,"p":0.054},{"r0":3.8,"r1":4.2,"a0":330,"a1":340,"p":0.055},{"r0":3.8,"r1":4.2,"a0":340,"a1":350,"p":0.056},{"r0":3.8,"r1":4.2,"a0":350,"a1":360,"p":0.057},

      {"r0":4.2,"r1":4.7,"a0":0,"a1":10,"p":0.061},{"r0":4.2,"r1":4.7,"a0":10,"a1":20,"p":0.06},{"r0":4.2,"r1":4.7,"a0":20,"a1":30,"p":0.059},{"r0":4.2,"r1":4.7,"a0":30,"a1":40,"p":0.057},{"r0":4.2,"r1":4.7,"a0":40,"a1":50,"p":0.054},{"r0":4.2,"r1":4.7,"a0":50,"a1":60,"p":0.051},{"r0":4.2,"r1":4.7,"a0":60,"a1":70,"p":0.048},{"r0":4.2,"r1":4.7,"a0":70,"a1":80,"p":0.044},{"r0":4.2,"r1":4.7,"a0":80,"a1":90,"p":0.04},{"r0":4.2,"r1":4.7,"a0":90,"a1":100,"p":0.036},{"r0":4.2,"r1":4.7,"a0":100,"a1":110,"p":0.032},{"r0":4.2,"r1":4.7,"a0":110,"a1":120,"p":0.028},{"r0":4.2,"r1":4.7,"a0":120,"a1":130,"p":0.025},{"r0":4.2,"r1":4.7,"a0":130,"a1":140,"p":0.022},{"r0":4.2,"r1":4.7,"a0":140,"a1":150,"p":0.019},{"r0":4.2,"r1":4.7,"a0":150,"a1":160,"p":0.017},{"r0":4.2,"r1":4.7,"a0":160,"a1":170,"p":0.016},{"r0":4.2,"r1":4.7,"a0":170,"a1":180,"p":0.015},
      {"r0":4.2,"r1":4.7,"a0":180,"a1":190,"p":0.015},{"r0":4.2,"r1":4.7,"a0":190,"a1":200,"p":0.016},{"r0":4.2,"r1":4.7,"a0":200,"a1":210,"p":0.017},{"r0":4.2,"r1":4.7,"a0":210,"a1":220,"p":0.019},{"r0":4.2,"r1":4.7,"a0":220,"a1":230,"p":0.022},{"r0":4.2,"r1":4.7,"a0":230,"a1":240,"p":0.025},{"r0":4.2,"r1":4.7,"a0":240,"a1":250,"p":0.028},{"r0":4.2,"r1":4.7,"a0":250,"a1":260,"p":0.032},{"r0":4.2,"r1":4.7,"a0":260,"a1":270,"p":0.036},{"r0":4.2,"r1":4.7,"a0":270,"a1":280,"p":0.04},{"r0":4.2,"r1":4.7,"a0":280,"a1":290,"p":0.044},{"r0":4.2,"r1":4.7,"a0":290,"a1":300,"p":0.048},{"r0":4.2,"r1":4.7,"a0":300,"a1":310,"p":0.051},{"r0":4.2,"r1":4.7,"a0":310,"a1":320,"p":0.054},{"r0":4.2,"r1":4.7,"a0":320,"a1":330,"p":0.057},{"r0":4.2,"r1":4.7,"a0":330,"a1":340,"p":0.059},{"r0":4.2,"r1":4.7,"a0":340,"a1":350,"p":0.06},{"r0":4.2,"r1":4.7,"a0":350,"a1":360,"p":0.061},

      {"r0":4.7,"r1":5.2,"a0":0,"a1":10,"p":0.06},{"r0":4.7,"r1":5.2,"a0":10,"a1":20,"p":0.059},{"r0":4.7,"r1":5.2,"a0":20,"a1":30,"p":0.058},{"r0":4.7,"r1":5.2,"a0":30,"a1":40,"p":0.056},{"r0":4.7,"r1":5.2,"a0":40,"a1":50,"p":0.054},{"r0":4.7,"r1":5.2,"a0":50,"a1":60,"p":0.051},{"r0":4.7,"r1":5.2,"a0":60,"a1":70,"p":0.047},{"r0":4.7,"r1":5.2,"a0":70,"a1":80,"p":0.044},{"r0":4.7,"r1":5.2,"a0":80,"a1":90,"p":0.04},{"r0":4.7,"r1":5.2,"a0":90,"a1":100,"p":0.036},{"r0":4.7,"r1":5.2,"a0":100,"a1":110,"p":0.032},{"r0":4.7,"r1":5.2,"a0":110,"a1":120,"p":0.029},{"r0":4.7,"r1":5.2,"a0":120,"a1":130,"p":0.025},{"r0":4.7,"r1":5.2,"a0":130,"a1":140,"p":0.022},{"r0":4.7,"r1":5.2,"a0":140,"a1":150,"p":0.02},{"r0":4.7,"r1":5.2,"a0":150,"a1":160,"p":0.018},{"r0":4.7,"r1":5.2,"a0":160,"a1":170,"p":0.017},{"r0":4.7,"r1":5.2,"a0":170,"a1":180,"p":0.016},
      {"r0":4.7,"r1":5.2,"a0":180,"a1":190,"p":0.016},{"r0":4.7,"r1":5.2,"a0":190,"a1":200,"p":0.017},{"r0":4.7,"r1":5.2,"a0":200,"a1":210,"p":0.018},{"r0":4.7,"r1":5.2,"a0":210,"a1":220,"p":0.02},{"r0":4.7,"r1":5.2,"a0":220,"a1":230,"p":0.022},{"r0":4.7,"r1":5.2,"a0":230,"a1":240,"p":0.025},{"r0":4.7,"r1":5.2,"a0":240,"a1":250,"p":0.029},{"r0":4.7,"r1":5.2,"a0":250,"a1":260,"p":0.032},{"r0":4.7,"r1":5.2,"a0":260,"a1":270,"p":0.036},{"r0":4.7,"r1":5.2,"a0":270,"a1":280,"p":0.04},{"r0":4.7,"r1":5.2,"a0":280,"a1":290,"p":0.044},{"r0":4.7,"r1":5.2,"a0":290,"a1":300,"p":0.047},{"r0":4.7,"r1":5.2,"a0":300,"a1":310,"p":0.051},{"r0":4.7,"r1":5.2,"a0":310,"a1":320,"p":0.054},{"r0":4.7,"r1":5.2,"a0":320,"a1":330,"p":0.056},{"r0":4.7,"r1":5.2,"a0":330,"a1":340,"p":0.058},{"r0":4.7,"r1":5.2,"a0":340,"a1":350,"p":0.059},{"r0":4.7,"r1":5.2,"a0":350,"a1":360,"p":0.06},

      {"r0":5.2,"r1":5.8,"a0":0,"a1":10,"p":0.056},{"r0":5.2,"r1":5.8,"a0":10,"a1":20,"p":0.055},{"r0":5.2,"r1":5.8,"a0":20,"a1":30,"p":0.054},{"r0":5.2,"r1":5.8,"a0":30,"a1":40,"p":0.053},{"r0":5.2,"r1":5.8,"a0":40,"a1":50,"p":0.051},{"r0":5.2,"r1":5.8,"a0":50,"a1":60,"p":0.048},{"r0":5.2,"r1":5.8,"a0":60,"a1":70,"p":0.045},{"r0":5.2,"r1":5.8,"a0":70,"a1":80,"p":0.042},{"r0":5.2,"r1":5.8,"a0":80,"a1":90,"p":0.039},{"r0":5.2,"r1":5.8,"a0":90,"a1":100,"p":0.036},{"r0":5.2,"r1":5.8,"a0":100,"a1":110,"p":0.033},{"r0":5.2,"r1":5.8,"a0":110,"a1":120,"p":0.03},{"r0":5.2,"r1":5.8,"a0":120,"a1":130,"p":0.027},{"r0":5.2,"r1":5.8,"a0":130,"a1":140,"p":0.025},{"r0":5.2,"r1":5.8,"a0":140,"a1":150,"p":0.022},{"r0":5.2,"r1":5.8,"a0":150,"a1":160,"p":0.021},{"r0":5.2,"r1":5.8,"a0":160,"a1":170,"p":0.02},{"r0":5.2,"r1":5.8,"a0":170,"a1":180,"p":0.019},
      {"r0":5.2,"r1":5.8,"a0":180,"a1":190,"p":0.019},{"r0":5.2,"r1":5.8,"a0":190,"a1":200,"p":0.02},{"r0":5.2,"r1":5.8,"a0":200,"a1":210,"p":0.021},{"r0":5.2,"r1":5.8,"a0":210,"a1":220,"p":0.022},{"r0":5.2,"r1":5.8,"a0":220,"a1":230,"p":0.025},{"r0":5.2,"r1":5.8,"a0":230,"a1":240,"p":0.027},{"r0":5.2,"r1":5.8,"a0":240,"a1":250,"p":0.03},{"r0":5.2,"r1":5.8,"a0":250,"a1":260,"p":0.033},{"r0":5.2,"r1":5.8,"a0":260,"a1":270,"p":0.036},{"r0":5.2,"r1":5.8,"a0":270,"a1":280,"p":0.039},{"r0":5.2,"r1":5.8,"a0":280,"a1":290,"p":0.042},{"r0":5.2,"r1":5.8,"a0":290,"a1":300,"p":0.045},{"r0":5.2,"r1":5.8,"a0":300,"a1":310,"p":0.048},{"r0":5.2,"r1":5.8,"a0":310,"a1":320,"p":0.051},{"r0":5.2,"r1":5.8,"a0":320,"a1":330,"p":0.053},{"r0":5.2,"r1":5.8,"a0":330,"a1":340,"p":0.054},{"r0":5.2,"r1":5.8,"a0":340,"a1":350,"p":0.055},{"r0":5.2,"r1":5.8,"a0":350,"a1":360,"p":0.056},

      {"r0":5.8,"r1":6.5,"a0":0,"a1":10,"p":0.048},{"r0":5.8,"r1":6.5,"a0":10,"a1":20,"p":0.048},{"r0":5.8,"r1":6.5,"a0":20,"a1":30,"p":0.047},{"r0":5.8,"r1":6.5,"a0":30,"a1":40,"p":0.046},{"r0":5.8,"r1":6.5,"a0":40,"a1":50,"p":0.045},{"r0":5.8,"r1":6.5,"a0":50,"a1":60,"p":0.043},{"r0":5.8,"r1":6.5,"a0":60,"a1":70,"p":0.041},{"r0":5.8,"r1":6.5,"a0":70,"a1":80,"p":0.04},{"r0":5.8,"r1":6.5,"a0":80,"a1":90,"p":0.038},{"r0":5.8,"r1":6.5,"a0":90,"a1":100,"p":0.036},{"r0":5.8,"r1":6.5,"a0":100,"a1":110,"p":0.034},{"r0":5.8,"r1":6.5,"a0":110,"a1":120,"p":0.032},{"r0":5.8,"r1":6.5,"a0":120,"a1":130,"p":0.03},{"r0":5.8,"r1":6.5,"a0":130,"a1":140,"p":0.029},{"r0":5.8,"r1":6.5,"a0":140,"a1":150,"p":0.027},{"r0":5.8,"r1":6.5,"a0":150,"a1":160,"p":0.026},{"r0":5.8,"r1":6.5,"a0":160,"a1":170,"p":0.026},{"r0":5.8,"r1":6.5,"a0":170,"a1":180,"p":0.025},
      {"r0":5.8,"r1":6.5,"a0":180,"a1":190,"p":0.025},{"r0":5.8,"r1":6.5,"a0":190,"a1":200,"p":0.026},{"r0":5.8,"r1":6.5,"a0":200,"a1":210,"p":0.026},{"r0":5.8,"r1":6.5,"a0":210,"a1":220,"p":0.027},{"r0":5.8,"r1":6.5,"a0":220,"a1":230,"p":0.029},{"r0":5.8,"r1":6.5,"a0":230,"a1":240,"p":0.03},{"r0":5.8,"r1":6.5,"a0":240,"a1":250,"p":0.032},{"r0":5.8,"r1":6.5,"a0":250,"a1":260,"p":0.034},{"r0":5.8,"r1":6.5,"a0":260,"a1":270,"p":0.036},{"r0":5.8,"r1":6.5,"a0":270,"a1":280,"p":0.038},{"r0":5.8,"r1":6.5,"a0":280,"a1":290,"p":0.04},{"r0":5.8,"r1":6.5,"a0":290,"a1":300,"p":0.041},{"r0":5.8,"r1":6.5,"a0":300,"a1":310,"p":0.043},{"r0":5.8,"r1":6.5,"a0":310,"a1":320,"p":0.045},{"r0":5.8,"r1":6.5,"a0":320,"a1":330,"p":0.046},{"r0":5.8,"r1":6.5,"a0":330,"a1":340,"p":0.047},{"r0":5.8,"r1":6.5,"a0":340,"a1":350,"p":0.048},{"r0":5.8,"r1":6.5,"a0":350,"a1":360,"p":0.048},

      {"r0":6.5,"r1":7.3,"a0":0,"a1":20,"p":0.039},{"r0":6.5,"r1":7.3,"a0":20,"a1":40,"p":0.039},{"r0":6.5,"r1":7.3,"a0":40,"a1":60,"p":0.038},{"r0":6.5,"r1":7.3,"a0":60,"a1":80,"p":0.037},{"r0":6.5,"r1":7.3,"a0":80,"a1":100,"p":0.035},{"r0":6.5,"r1":7.3,"a0":100,"a1":120,"p":0.034},{"r0":6.5,"r1":7.3,"a0":120,"a1":140,"p":0.033},{"r0":6.5,"r1":7.3,"a0":140,"a1":160,"p":0.032},{"r0":6.5,"r1":7.3,"a0":160,"a1":180,"p":0.032},
      {"r0":6.5,"r1":7.3,"a0":180,"a1":200,"p":0.032},{"r0":6.5,"r1":7.3,"a0":200,"a1":220,"p":0.032},{"r0":6.5,"r1":7.3,"a0":220,"a1":240,"p":0.033},{"r0":6.5,"r1":7.3,"a0":240,"a1":260,"p":0.034},{"r0":6.5,"r1":7.3,"a0":260,"a1":280,"p":0.035},{"r0":6.5,"r1":7.3,"a0":280,"a1":300,"p":0.037},{"r0":6.5,"r1":7.3,"a0":300,"a1":320,"p":0.038},{"r0":6.5,"r1":7.3,"a0":320,"a1":340,"p":0.039},{"r0":6.5,"r1":7.3,"a0":340,"a1":360,"p":0.039},

      {"r0":7.3,"r1":8.2,"a0":0,"a1":20,"p":0.03},{"r0":7.3,"r1":8.2,"a0":20,"a1":40,"p":0.031},{"r0":7.3,"r1":8.2,"a0":40,"a1":60,"p":0.032},{"r0":7.3,"r1":8.2,"a0":60,"a1":80,"p":0.033},{"r0":7.3,"r1":8.2,"a0":80,"a1":100,"p":0.034},{"r0":7.3,"r1":8.2,"a0":100,"a1":120,"p":0.036},{"r0":7.3,"r1":8.2,"a0":120,"a1":140,"p":0.037},{"r0":7.3,"r1":8.2,"a0":140,"a1":160,"p":0.038},{"r0":7.3,"r1":8.2,"a0":160,"a1":180,"p":0.039},
      {"r0":7.3,"r1":8.2,"a0":180,"a1":200,"p":0.039},{"r0":7.3,"r1":8.2,"a0":200,"a1":220,"p":0.038},{"r0":7.3,"r1":8.2,"a0":220,"a1":240,"p":0.037},{"r0":7.3,"r1":8.2,"a0":240,"a1":260,"p":0.036},{"r0":7.3,"r1":8.2,"a0":260,"a1":280,"p":0.034},{"r0":7.3,"r1":8.2,"a0":280,"a1":300,"p":0.033},{"r0":7.3,"r1":8.2,"a0":300,"a1":320,"p":0.032},{"r0":7.3,"r1":8.2,"a0":320,"a1":340,"p":0.031},{"r0":7.3,"r1":8.2,"a0":340,"a1":360,"p":0.03},

      {"r0":8.2,"r1":10,"a0":0,"a1":20,"p":0.025},{"r0":8.2,"r1":10,"a0":20,"a1":40,"p":0.026},{"r0":8.2,"r1":10,"a0":40,"a1":60,"p":0.028},{"r0":8.2,"r1":10,"a0":60,"a1":80,"p":0.031},{"r0":8.2,"r1":10,"a0":80,"a1":100,"p":0.034},{"r0":8.2,"r1":10,"a0":100,"a1":120,"p":0.037},{"r0":8.2,"r1":10,"a0":120,"a1":140,"p":0.039},{"r0":8.2,"r1":10,"a0":140,"a1":160,"p":0.041},{"r0":8.2,"r1":10,"a0":160,"a1":180,"p":0.042},
      {"r0":8.2,"r1":10,"a0":180,"a1":200,"p":0.042},{"r0":8.2,"r1":10,"a0":200,"a1":220,"p":0.041},{"r0":8.2,"r1":10,"a0":220,"a1":240,"p":0.039},{"r0":8.2,"r1":10,"a0":240,"a1":260,"p":0.037},{"r0":8.2,"r1":10,"a0":260,"a1":280,"p":0.034},{"r0":8.2,"r1":10,"a0":280,"a1":300,"p":0.031},{"r0":8.2,"r1":10,"a0":300,"a1":320,"p":0.028},{"r0":8.2,"r1":10,"a0":320,"a1":340,"p":0.026},{"r0":8.2,"r1":10,"a0":340,"a1":360,"p":0.025}
    ]
  },
  "vconcat": [
    {
      "width": 542,
      "height": 429,
      "view": {"stroke": "#7a7a7a", "strokeWidth": 1, "fill": "#a2a2a2"},
      "layer": [
        {
          "data": {"name": "field"},
          "encoding": {
            "x": {"datum": 1.5708, "type": "quantitative",
                  "scale": {"domain": [-6.3, 6.3], "nice": false, "zero": false},
                  "axis": {"values": [-6, -4, -2, 0, 2, 4, 6], "labelExpr": "'' + datum.value", "domain": false, "ticks": false, "labelPadding": 10, "labelFont": "Liberation Sans", "labelFontSize": 13, "labelColor": "black", "title": null}},
            "y": {"datum": 0, "type": "quantitative",
                  "scale": {"domain": [-5, 5.05], "nice": false, "zero": false},
                  "axis": {"values": [-5, -4, -3, -2, -1, 0, 1, 2, 3, 4], "labelExpr": "'' + datum.value", "domain": false, "ticks": false, "labelPadding": 6, "labelFont": "Liberation Sans", "labelFontSize": 13, "labelColor": "black", "title": null}},
            "theta": {"field": "a0", "type": "quantitative", "stack": null, "scale": {"domain": [0, 360], "range": [1.5708, -4.7124]}},
            "theta2": {"field": "a1"},
            "radius": {"field": "r0", "type": "quantitative", "scale": {"type": "linear", "domain": [0, 10], "range": [0, 428.5], "zero": true}},
            "radius2": {"field": "r1"},
            "fill": {"field": "p", "type": "quantitative",
                     "scale": {"domain": [-0.248, 0.197], "range": ["#000000", "#ffffff"], "interpolate": "rgb", "clamp": true},
                     "legend": {"type": "gradient", "orient": "none", "legendX": 557, "legendY": -5, "direction": "vertical", "gradientLength": 440, "gradientThickness": 20, "gradientStrokeColor": "black", "gradientStrokeWidth": 1, "values": [-0.2, -0.15, -0.1, -0.05, 0, 0.05, 0.1, 0.15], "labelExpr": "'' + datum.value", "labelFont": "Liberation Sans", "labelFontSize": 13, "labelColor": "black", "labelOffset": 3, "labelOverlap": false, "title": null}}
          },
          "layer": [
            {"mark": {"type": "arc", "clip": true}},
            {"mark": {"type": "arc", "clip": true}},
            {"mark": {"type": "arc", "clip": true}}
          ]
        },
        {
          "data": {"name": "sample"},
          "mark": {"type": "arc", "fill": "white", "stroke": "black", "strokeWidth": 1.5},
          "encoding": {
            "x": {"field": "z", "type": "quantitative"},
            "y": {"field": "y", "type": "quantitative"},
            "theta": {"datum": 0, "type": "quantitative"},
            "theta2": {"datum": 360},
            "radius": {"field": "r", "type": "quantitative"}
          }
        },
        {
          "data": {"name": "sample"},
          "mark": {"type": "text", "font": "Liberation Serif", "fontSize": 18, "color": "black", "baseline": "middle", "dy": -2},
          "encoding": {
            "x": {"field": "z", "type": "quantitative"},
            "y": {"field": "y", "type": "quantitative"},
            "text": {"field": "name"}
          }
        },
        {
          "data": {"name": "sample"},
          "mark": {"type": "rule", "color": "black", "strokeWidth": 1, "strokeDash": [7, 5]},
          "encoding": {
            "x": {"field": "z", "type": "quantitative"},
            "y": {"datum": 5.05},
            "y2": {"datum": -5.74}
          }
        },
        {
          "data": {"values": [{}]},
          "layer": [
            {"mark": {"type": "rule", "color": "black", "strokeWidth": 2.5},
             "encoding": {"x": {"datum": -6.3}, "y": {"datum": -5}, "y2": {"datum": 5.6}}},
            {"mark": {"type": "rule", "color": "black", "strokeWidth": 2.5},
             "encoding": {"x": {"datum": -6.3}, "x2": {"datum": 8.0}, "y": {"datum": -5}}},
            {"mark": {"type": "point", "shape": "M0,-1L1,0.8L-1,0.8Z", "size": 100, "filled": true, "color": "black", "opacity": 1},
             "encoding": {"x": {"datum": -6.3}, "y": {"datum": 5.66}}},
            {"mark": {"type": "point", "shape": "M1,0L-1,-0.65L-1,0.65Z", "size": 529, "filled": true, "color": "black", "opacity": 1},
             "encoding": {"x": {"datum": 8.15}, "y": {"datum": -5}}},
            {"mark": {"type": "text", "font": "Liberation Sans", "fontSize": 14, "color": "black", "align": "center", "baseline": "middle"},
             "encoding": {"x": {"datum": -0.12}, "y": {"datum": 5.47}, "text": {"value": "P dispersada"}}},
            {"mark": {"type": "text", "font": "Liberation Serif", "fontSize": 17.5, "color": "black", "align": "left", "baseline": "middle"},
             "encoding": {"x": {"datum": -6.08}, "y": {"datum": 5.63}, "text": {"value": "Dirección (θ=π/2)"}}},
            {"mark": {"type": "text", "font": "Liberation Serif", "fontSize": 20, "color": "black", "align": "left", "baseline": "middle"},
             "encoding": {"x": {"datum": 8.47}, "y": {"datum": -4.93}, "text": {"value": "Eje z"}}},
            {"mark": {"type": "text", "font": "Liberation Serif", "fontSize": 19.5, "color": "black", "align": "center", "baseline": "middle", "angle": 270, "lineHeight": 29},
             "encoding": {"x": {"datum": 1.19}, "y": {"datum": -3.24}, "text": {"value": ["Plano del nodo", "de presión"]}}},
            {"mark": {"type": "text", "font": "Liberation Serif", "fontSize": 20, "color": "black", "align": "center", "baseline": "middle", "angle": 270},
             "encoding": {"x": {"datum": 8.19}, "y": {"datum": 0.05}, "text": {"value": "Escala cromática de presión normalizada (Pa)"}}}
          ]
        }
      ]
    },
    {
      "width": 542,
      "height": 81,
      "view": {"stroke": "black", "strokeWidth": 2},
      "resolve": {"axis": {"x": "independent"}},
      "layer": [
        {
          "data": {"name": "incident"},
          "mark": {"type": "line", "color": "#2040ff", "strokeWidth": 1.3, "interpolate": "natural", "clip": true},
          "encoding": {
            "x": {"field": "z", "type": "quantitative",
                  "scale": {"domain": [-6.3, 6.3], "nice": false, "zero": false},
                  "axis": {"orient": "top", "values": [-6, -4, -2, 0, 2, 4, 6], "labels": false, "domain": false, "tickSize": -5, "tickColor": "black", "title": null}},
            "y": {"field": "p", "type": "quantitative",
                  "scale": {"domain": [-1.18, 1.18], "nice": false, "zero": false},
                  "axis": {"values": [-1, 0, 1], "labelExpr": "datum.value > 0 ? '+' + datum.value : '' + datum.value", "labelFont": "Liberation Serif", "labelFontSize": 18, "labelColor": "black", "labelPadding": 8, "tickSize": -5, "tickColor": "black", "domain": false, "title": null}}
          }
        },
        {
          "data": {"values": [{}]},
          "mark": {"type": "rule", "color": "black", "strokeWidth": 1, "strokeDash": [7, 5]},
          "encoding": {"y": {"datum": 0}}
        },
        {
          "data": {"name": "sample"},
          "mark": {"type": "rule", "color": "black", "strokeWidth": 1, "strokeDash": [7, 5]},
          "encoding": {
            "x": {"field": "z", "type": "quantitative",
                  "axis": {"orient": "bottom", "values": [-6, -4, -2, 0, 2, 4, 6], "labels": false, "domain": false, "tickSize": -5, "tickColor": "black", "title": null}}
          }
        },
        {
          "data": {"values": [{}]},
          "mark": {"type": "text", "font": "Liberation Serif", "fontSize": 18.5, "color": "black", "align": "center", "baseline": "middle", "lineHeight": 26.5},
          "encoding": {
            "x": {"datum": 8.03, "axis": null},
            "y": {"datum": 0.78},
            "text": {"value": ["Perfil de la presión", "incidente", "normalizada (Pa)"]}
          }
        }
      ]
    }
  ]
}
